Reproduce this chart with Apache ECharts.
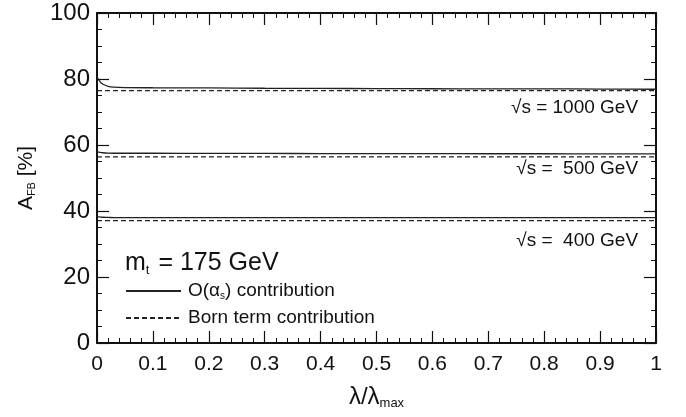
<!DOCTYPE html>
<html>
<head>
<meta charset="utf-8">
<script src="https://cdn.jsdelivr.net/npm/echarts@6/dist/echarts.min.js"></script>
<style>
  html, body { margin: 0; padding: 0; background: #fff; }
  #chart { width: 686px; height: 417px; }
</style>
</head>
<body>
<div id="chart"></div>
<script>
// λ/λmax sample points
const lambda = [0, 0.005, 0.01, 0.02, 0.03, 0.05, 0.1, 0.2, 0.3, 0.4, 0.5, 0.6, 0.7, 0.8, 0.9, 1.0];

// O(αs) forward-backward asymmetry, per c.m. energy
const oas1000 = [80.7, 79.3, 78.5, 77.8, 77.55, 77.4, 77.35, 77.3, 77.2, 77.15, 77.1, 77.05, 77.0, 77.0, 76.95, 76.9];
const oas500  = [57.9, 57.75, 57.65, 57.55, 57.5, 57.5, 57.5, 57.45, 57.45, 57.4, 57.4, 57.4, 57.35, 57.35, 57.3, 57.3];
const oas400  = [38.3, 38.2, 38.1, 38.05, 38.0, 38.0, 38.0, 38.0, 38.0, 38.0, 38.0, 38.0, 38.0, 38.0, 38.0, 38.0];

// Born term (independent of λ)
const born1000 = 76.5;
const born500  = 56.4;
const born400  = 37.1;

// energy annotations: [λ, A_FB, text]
const energyLabels = [
  [0.968, 71.3, '√s = 1000 GeV'],
  [0.968, 52.8, '√s =  500 GeV'],
  [0.968, 31.0, '√s =  400 GeV']
];

const xTicks = { min: 0, max: 1, interval: 0.1 };
const yTicks = { min: 0, max: 100, interval: 20 };

const FONT = '"Liberation Sans", Arial, sans-serif';
const INK = '#111';
const SOLID_NAME = 'O(αs) contribution';
const DASH_NAME = 'Born term contribution';

const pairs = (ys) => lambda.map((x, i) => [x, ys[i]]);
const flat = (v) => lambda.map((x) => [x, v]);

function solid(ys) {
  return {
    type: 'line', name: SOLID_NAME, data: pairs(ys), symbol: 'none', smooth: 0.3,
    lineStyle: { color: '#222', width: 1.3, type: 'solid' }, itemStyle: { color: '#222' },
    animation: false, z: 3
  };
}
function dashed(v) {
  return {
    type: 'line', name: DASH_NAME, data: flat(v), symbol: 'none',
    lineStyle: { color: '#222', width: 1.2, type: [5, 3] }, itemStyle: { color: '#222' },
    animation: false, z: 3
  };
}

const chart = echarts.init(document.getElementById('chart'), null, { renderer: 'canvas' });

const axisLine = { show: true, onZero: false, lineStyle: { color: '#111', width: 2 } };
const axisTick = { show: true, inside: true, length: 12, lineStyle: { color: '#111', width: 1.2 } };
const minorX = { show: true, splitNumber: 5, length: 5, lineStyle: { color: '#111', width: 1 } };
const minorY = { show: true, splitNumber: 4, length: 5, lineStyle: { color: '#111', width: 1 } };

chart.setOption({
  backgroundColor: '#fff',
  animation: false,
  grid: { left: 97, right: 30, top: 13, bottom: 74 },
  title: {
    text: 'm{sub|t} = 175 GeV',
    left: 120, top: 244, padding: 5,
    textStyle: {
      fontFamily: FONT, fontSize: 25, fontWeight: 'normal', color: INK,
      rich: {
        sub: { fontFamily: FONT, fontSize: 13, color: INK, verticalAlign: 'bottom', padding: [15, 2, 0, 0] }
      }
    }
  },
  legend: {
    data: [SOLID_NAME, DASH_NAME],
    orient: 'vertical', left: 120, top: 276, padding: 5,
    itemWidth: 55, itemHeight: 20, itemGap: 7,
    selectedMode: false,
    itemStyle: { opacity: 0 },
    formatter: (n) => n === SOLID_NAME ? 'O(α{s|s}) contribution' : n,
    textStyle: {
      fontFamily: FONT, fontSize: 19, color: INK, lineHeight: 20, padding: [0, 0, 0, 2],
      rich: {
        s: { fontFamily: FONT, fontSize: 10, color: INK, padding: [10, 0, 0, 0] }
      }
    }
  },
  xAxis: [
    {
      type: 'value', position: 'bottom', min: xTicks.min, max: xTicks.max, interval: xTicks.interval,
      axisLine, axisTick, minorTick: minorX, splitLine: { show: false },
      axisLabel: { show: true, fontFamily: FONT, fontSize: 21, color: INK, margin: 11,
        formatter: (v) => String(Math.round(v * 10) / 10) },
      name: 'λ/λ{sub|max}', nameLocation: 'middle', nameGap: 42,
      nameTextStyle: {
        fontFamily: FONT, fontSize: 24, color: INK,
        rich: { sub: { fontFamily: FONT, fontSize: 13, color: INK, padding: [12, 0, 0, 0] } }
      }
    },
    {
      type: 'value', position: 'top', min: xTicks.min, max: xTicks.max, interval: xTicks.interval,
      axisLine, axisTick, minorTick: minorX, splitLine: { show: false },
      axisLabel: { show: false }
    }
  ],
  yAxis: [
    {
      type: 'value', position: 'left', min: yTicks.min, max: yTicks.max, interval: yTicks.interval,
      axisLine, axisTick, minorTick: minorY, splitLine: { show: false },
      axisLabel: { show: true, fontFamily: FONT, fontSize: 24, color: INK, margin: 7 },
      name: 'A{sub|FB} [%]', nameLocation: 'middle', nameGap: 60, nameRotate: 90,
      nameTextStyle: {
        fontFamily: FONT, fontSize: 21, color: INK,
        rich: { sub: { fontFamily: FONT, fontSize: 11, color: INK, padding: [10, 0, 0, 0] } }
      }
    },
    {
      type: 'value', position: 'right', min: yTicks.min, max: yTicks.max, interval: yTicks.interval,
      axisLine, axisTick, minorTick: minorY, splitLine: { show: false },
      axisLabel: { show: false }
    }
  ],
  series: [
    solid(oas1000), dashed(born1000),
    solid(oas500), dashed(born500),
    solid(oas400), dashed(born400),
    {
      type: 'scatter', name: 'energies', data: energyLabels.map((d) => ({ value: [d[0], d[1]], name: d[2] })),
      symbolSize: 0, silent: true, animation: false,
      itemStyle: { opacity: 1, color: INK },
      label: {
        show: true, position: 'left', distance: 0, formatter: (p) => p.name,
        fontFamily: FONT, fontSize: 19, color: INK
      }
    }
  ]
});
</script>
</body>
</html>
